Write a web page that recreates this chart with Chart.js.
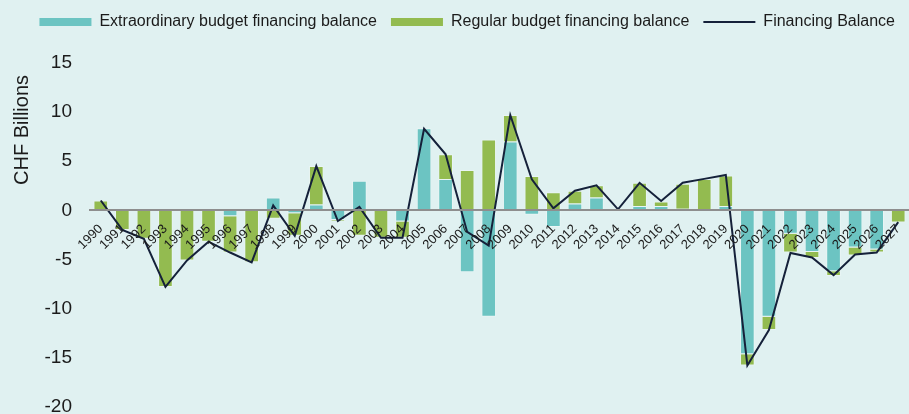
<!DOCTYPE html>
<html>
<head>
<meta charset="utf-8">
<script src="https://cdn.jsdelivr.net/npm/chart.js@4.4.1/dist/chart.umd.min.js"></script>
<style>
    html, body { margin: 0; padding: 0; background: #e0f1f1; }
    #chart-wrap { width: 909px; height: 414px; position: relative; }
</style>
</head>
<body>
<div id="chart-wrap"><canvas id="balance-chart"></canvas></div>
<script>
// Data (CHF billions)
const years = ["1990", "1991", "1992", "1993", "1994", "1995", "1996", "1997", "1998", "1999",
    "2000", "2001", "2002", "2003", "2004", "2005", "2006", "2007", "2008", "2009",
    "2010", "2011", "2012", "2013", "2014", "2015", "2016", "2017", "2018", "2019",
    "2020", "2021", "2022", "2023", "2024", "2025", "2026", "2027"];

const extraordinary = [0, 0, 0, 0, 0, 0, -0.6, 0, 1.3, -0.3,
    0.6, -1.0, 3.0, 0, -1.15, 8.35, 3.2, -6.3, -10.85, 7.0,
    -0.45, -1.7, 0.7, 1.3, 0.15, 0.45, 0.45, 0.15, 0, 0.45,
    -14.65, -10.85, -2.4, -4.25, -6.2, -3.8, -4.0, 0];

const regular = [1.0, -2.0, -2.9, -7.8, -5.1, -3.2, -3.7, -5.3, -0.85, -2.3,
    3.9, -0.1, -2.6, -2.8, -1.65, 0, 2.5, 4.1, 7.2, 2.7,
    3.5, 1.85, 1.3, 1.25, 0, 2.35, 0.45, 2.55, 3.2, 3.1,
    -1.15, -1.35, -1.9, -0.6, -0.5, -0.8, -0.3, -1.25];

const financingBalance = [1.0, -2.0, -2.9, -7.8, -5.1, -3.2, -4.3, -5.3, 0.5, -2.6,
    4.5, -1.1, 0.35, -2.8, -2.8, 8.3, 5.7, -2.2, -3.6, 9.7,
    3.15, 0.2, 2.0, 2.55, 0.1, 2.8, 0.95, 2.8, 3.2, 3.6,
    -15.8, -12.2, -4.35, -4.8, -6.6, -4.5, -4.3, -1.2];

const yTicks = [15, 10, 5, 0, -5, -10, -15, -20];

const FONT = "'Liberation Sans', Arial, sans-serif";
const TEXT_COLOR = "#1b1b1b";

// y axis title drawn at a fixed spot (sits above the axis middle in the original)
const axisTitlePlugin = {
    id: "axisTitle",
    afterDraw(chart) {
        const ctx = chart.ctx;
        ctx.save();
        ctx.translate(22, 130);
        ctx.rotate(-Math.PI / 2);
        ctx.font = `20px ${FONT}`;
        ctx.fillStyle = TEXT_COLOR;
        ctx.textAlign = "center";
        ctx.textBaseline = "middle";
        ctx.fillText("CHF Billions", 0, 0);
        ctx.restore();
    }
};

// extra room under the legend
const legendSpacing = {
    id: "legendSpacing",
    beforeInit(chart) {
        const origFit = chart.legend.fit;
        chart.legend.fit = function () {
            origFit.bind(chart.legend)();
            this.height += 23;
        };
    }
};

const ctx = document.getElementById("balance-chart").getContext("2d");

new Chart(ctx, {
    type: "bar",
    data: {
        labels: years,
        datasets: [
            {
                label: "Extraordinary budget financing balance",
                data: extraordinary,
                backgroundColor: "#6cc4c2",
                borderColor: "rgba(255, 255, 255, 0.3)",
                borderWidth: 1,
                stack: "bars",
                order: 1
            },
            {
                label: "Regular budget financing balance",
                data: regular,
                backgroundColor: "#93bb50",
                borderColor: "rgba(255, 255, 255, 0.3)",
                borderWidth: 1,
                stack: "bars",
                order: 1
            },
            {
                type: "line",
                label: "Financing Balance",
                data: financingBalance,
                borderColor: "#15213a",
                backgroundColor: "#15213a",
                borderWidth: 2,
                pointRadius: 0,
                tension: 0,
                stack: "line",
                order: 0
            }
        ]
    },
    options: {
        responsive: true,
        maintainAspectRatio: false,
        animation: false,
        layout: { padding: 0 },
        barPercentage: 0.68,
        categoryPercentage: 1.0,
        plugins: {
            tooltip: { enabled: false },
            legend: {
                position: "top",
                align: "end",
                labels: {
                    usePointStyle: true,
                    pointStyleWidth: 52,
                    boxHeight: 8,
                    padding: 14,
                    color: TEXT_COLOR,
                    font: { family: FONT, size: 16 },
                    generateLabels: (chart) => chart.data.datasets.map((ds, i) => ({
                        text: ds.label,
                        datasetIndex: i,
                        fillStyle: ds.type === "line" ? ds.borderColor : ds.backgroundColor,
                        strokeStyle: ds.type === "line" ? ds.borderColor : ds.backgroundColor,
                        lineWidth: ds.type === "line" ? 2 : 0,
                        pointStyle: ds.type === "line" ? "line" : "rect",
                        fontColor: TEXT_COLOR,
                        hidden: false
                    }))
                }
            }
        },
        scales: {
            x: {
                stacked: true,
                position: { y: 0 },
                grid: { display: false },
                // zero line and year labels sit on top of the bars
                border: { display: true, color: "#8e8e8e", width: 2, z: 1 },
                // labels hang under the zero line; keep them from shrinking the plot
                afterFit: (scale) => {
                    scale.paddingLeft = 0;
                    scale.paddingRight = 0;
                },
                ticks: {
                    autoSkip: false,
                    minRotation: 45,
                    maxRotation: 45,
                    padding: 3,
                    z: 1,
                    color: TEXT_COLOR,
                    font: { family: FONT, size: 13 }
                }
            },
            y: {
                stacked: true,
                min: -20,
                max: 15,
                grid: { display: false, drawTicks: false },
                border: { display: false },
                afterFit: (scale) => {
                    scale.width = 90;
                    scale.paddingBottom = 7.3;
                },
                afterBuildTicks: (scale) => {
                    scale.ticks = yTicks.map(v => ({ value: v }));
                },
                ticks: {
                    padding: 18,
                    color: TEXT_COLOR,
                    font: { family: FONT, size: 19, lineHeight: 0.8 },
                    callback: (v) => String(v)
                }
            }
        }
    },
    plugins: [axisTitlePlugin, legendSpacing]
});
</script>
</body>
</html>
